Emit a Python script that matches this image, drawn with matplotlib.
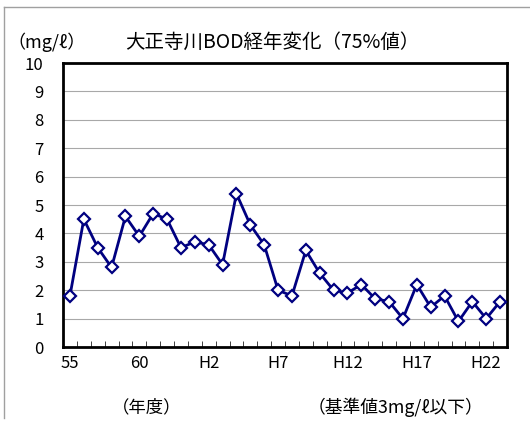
import matplotlib
matplotlib.use("Agg")
import matplotlib.pyplot as plt
from matplotlib.lines import Line2D
from matplotlib.ticker import FixedLocator, NullFormatter

plt.rcParams['font.family'] = ['Noto Sans CJK JP', 'DejaVu Sans']

years = ["55", "56", "57", "58", "59", "60", "61", "62", "63",
         "H1", "H2", "H3", "H4", "H5", "H6", "H7", "H8", "H9", "H10",
         "H11", "H12", "H13", "H14", "H15", "H16", "H17", "H18", "H19",
         "H20", "H21", "H22", "H23"]
bod = [1.8, 4.5, 3.5, 2.8, 4.6, 3.9, 4.7, 4.5, 3.5,
       3.7, 3.6, 2.9, 5.4, 4.3, 3.6, 2.0, 1.8, 3.4, 2.6,
       2.0, 1.9, 2.2, 1.7, 1.6, 1.0, 2.2, 1.4, 1.8,
       0.9, 1.6, 1.0, 1.6]
shown_labels = ["55", "60", "H2", "H7", "H12", "H17", "H22"]
y_ticks = list(range(0, 11))

W, H = 530, 425
fig = plt.figure(figsize=(W / 100, H / 100), dpi=100)
fig.patch.set_facecolor("white")

# outer border (top and left edges visible)
fig.add_artist(Line2D([3.5 / W, 3.5 / W], [1 - 418 / H, 1 - 6.5 / H], transform=fig.transFigure,
                      color="#a0a0a0", linewidth=1.0))
fig.add_artist(Line2D([3.5 / W, 1.0], [1 - 6.5 / H, 1 - 6.5 / H], transform=fig.transFigure,
                      color="#a0a0a0", linewidth=1.0))

left, right, top, bottom = 63, 507, 63, 347
ax = fig.add_axes([left / W, 1 - bottom / H, (right - left) / W, (bottom - top) / H])

x = list(range(len(years)))
ax.plot(x, bod, color="#000080", linewidth=2.0, marker="D", markersize=6.2,
        markerfacecolor="white", markeredgecolor="#000080", markeredgewidth=1.6,
        zorder=3, clip_on=False)

ax.set_xlim(-0.5, len(years) - 0.5)
ax.set_ylim(0, 10)

ax.set_yticks(y_ticks)
ax.set_yticklabels([str(v) for v in y_ticks], fontsize=12)
ax.tick_params(axis="y", length=0, pad=14)
for v in y_ticks[1:-1]:
    ax.axhline(v, color="#a8a8a8", linewidth=0.8, zorder=1)

pos = [years.index(l) for l in shown_labels]
ax.set_xticks(pos)
ax.set_xticklabels(shown_labels, fontsize=12)
ax.tick_params(axis="x", which="major", length=0, pad=6)
ax.xaxis.set_minor_locator(FixedLocator([i - 0.5 for i in range(1, len(years))]))
ax.xaxis.set_minor_formatter(NullFormatter())
ax.tick_params(axis="x", which="minor", direction="in", length=4, width=0.7, color="#404040")

for s in ax.spines.values():
    s.set_linewidth(2.0)
    s.set_color("black")

fig.text(272 / W, 1 - 42 / H, "大正寺川BOD経年変化（75%値）", ha="center", va="center", fontsize=14)
fig.text(47 / W, 1 - 42 / H, "（mg/ℓ）", ha="center", va="center", fontsize=13)
fig.text(147 / W, 1 - 407 / H, "（年度）", ha="center", va="center", fontsize=12.5)
fig.text(396 / W, 1 - 407 / H, "（基準値3mg/ℓ以下）", ha="center", va="center", fontsize=12.8)

fig.savefig("out.png", dpi=100, facecolor="white")
